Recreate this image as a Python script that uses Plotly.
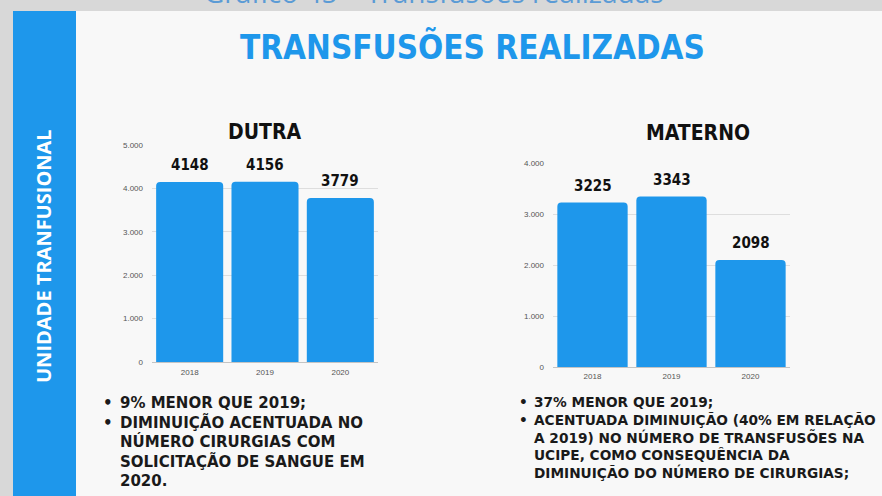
import plotly.graph_objects as go

W, H = 882, 496

years = ["2018", "2019", "2020"]
dutra_values = [4148, 4156, 3779]
materno_values = [3225, 3343, 2098]

page_caption = "Gráfico 45 – Transfusões realizadas"
main_title = "TRANSFUSÕES REALIZADAS"
side_label = "UNIDADE TRANFUSIONAL"
dutra_title = "DUTRA"
materno_title = "MATERNO"
dutra_notes = [
    "9% MENOR QUE 2019;",
    "DIMINUIÇÃO ACENTUADA NO",
    "NÚMERO CIRURGIAS COM",
    "SOLICITAÇÃO DE SANGUE EM",
    "2020.",
]
dutra_bullet_lines = [0, 1]
materno_notes = [
    "37% MENOR QUE 2019;",
    "ACENTUADA DIMINUIÇÃO (40% EM RELAÇÃO",
    "A 2019) NO NÚMERO DE TRANSFUSÕES NA",
    "UCIPE, COMO CONSEQUÊNCIA DA",
    "DIMINUIÇÃO DO NÚMERO DE CIRURGIAS;",
]
materno_bullet_lines = [0, 1]

BLUE = "#1e97eb"
COND = "DejaVu Sans Condensed, Liberation Sans Narrow, sans-serif"
BODY = "Open Sans, Lato, sans-serif"
NOTE = "DejaVu Sans, sans-serif"


def px(x):
    return x / W


def py(y):
    return 1 - y / H


fig = go.Figure()

fig.add_trace(go.Bar(
    x=years, y=dutra_values,
    marker=dict(color=BLUE, line=dict(width=0)),
    xaxis="x", yaxis="y", showlegend=False, hoverinfo="skip",
))
fig.add_trace(go.Bar(
    x=years, y=materno_values,
    marker=dict(color=BLUE, line=dict(width=0)),
    xaxis="x2", yaxis="y2", showlegend=False, hoverinfo="skip",
))

tick_font = dict(family="Liberation Sans, Arial, sans-serif", size=8, color="#555")
axis_common_y = dict(
    tickformat=",d", showgrid=True, gridcolor="#dedede", gridwidth=1,
    zeroline=False, showline=False, ticks="", tickfont=tick_font,
    ticklabelstandoff=8, fixedrange=True, automargin=False,
)
axis_common_x = dict(
    type="category", showgrid=False, showline=True, linecolor="#c4c4c4",
    linewidth=1, ticks="", zeroline=False, tickfont=tick_font,
    fixedrange=True, automargin=False,
)

fig.update_layout(
    width=W, height=H,
    margin=dict(l=0, r=0, t=0, b=0, pad=0, autoexpand=False),
    paper_bgcolor="#d8d8d8",
    plot_bgcolor="rgba(0,0,0,0)",
    separators=",.",
    bargap=0.11,
    barcornerradius=4,
    xaxis=dict(domain=[px(152), px(378)], anchor="y", ticklabelstandoff=2, **axis_common_x),
    yaxis=dict(domain=[py(362), py(145)], range=[0, 5000], dtick=1000, anchor="x", **axis_common_y),
    xaxis2=dict(domain=[px(553), px(790)], anchor="y2", ticklabelstandoff=1, **axis_common_x),
    yaxis2=dict(domain=[py(367), py(163)], range=[0, 4000], dtick=1000, anchor="x2", **axis_common_y),
)

shapes = [
    dict(type="rect", xref="paper", yref="paper", x0=px(76), x1=1, y0=0, y1=py(11),
         fillcolor="#f8f8f8", line=dict(width=0), layer="below"),
    dict(type="rect", xref="paper", yref="paper", x0=px(13), x1=px(76), y0=0, y1=py(11),
         fillcolor=BLUE, line=dict(width=0), layer="below"),
]
fig.update_layout(shapes=shapes)

ann = []
# value labels placed from the data through the axes (category index on x)
for xa, ya, vals in (("x", "y", dutra_values), ("x2", "y2", materno_values)):
    for i, v in enumerate(vals):
        ann.append(dict(text=str(v), x=i, y=v, xref=xa, yref=ya,
                        xanchor="center", yanchor="middle", yshift=17, showarrow=False,
                        font=dict(family=COND, size=15, color="#111", weight="bold")))

ann.append(dict(text=page_caption, x=px(434), y=py(13), xref="paper", yref="paper",
                xanchor="center", yanchor="bottom", showarrow=False,
                font=dict(family=BODY, size=28, color="#5b9bd5")))
ann.append(dict(text=main_title, x=px(472), y=py(47), xref="paper", yref="paper",
                xanchor="center", yanchor="middle", showarrow=False,
                font=dict(family=COND, size=33, color=BLUE, weight="bold")))
ann.append(dict(text=side_label, x=px(43), y=py(256), xref="paper", yref="paper",
                xanchor="center", yanchor="middle", showarrow=False, textangle=-90,
                font=dict(family=BODY, size=20, color="white", weight="bold")))
ann.append(dict(text=dutra_title, x=px(264), y=py(132), xref="paper", yref="paper",
                xanchor="center", yanchor="middle", showarrow=False,
                font=dict(family=COND, size=21, color="#111", weight="bold")))
ann.append(dict(text=materno_title, x=px(698), y=py(133), xref="paper", yref="paper",
                xanchor="center", yanchor="middle", showarrow=False,
                font=dict(family=COND, size=21, color="#111", weight="bold")))

# note blocks
left_size, right_size = 15, 13.7
left_top, right_top = 403, 402
ann.append(dict(text="<br>".join(dutra_notes), x=px(118), y=py(left_top + 2 * 1.3 * left_size),
                xref="paper", yref="paper", xanchor="left", yanchor="middle", align="left",
                showarrow=False,
                font=dict(family=NOTE, size=left_size, color="#1a1a1a", weight="bold")))
for i in dutra_bullet_lines:
    ann.append(dict(text="•", x=px(108), y=py(left_top + i * 1.3 * left_size),
                    xref="paper", yref="paper", xanchor="center", yanchor="middle",
                    showarrow=False,
                    font=dict(family=NOTE, size=left_size, color="#1a1a1a", weight="bold")))
ann.append(dict(text="<br>".join(materno_notes), x=px(532), y=py(right_top + 2 * 1.3 * right_size),
                xref="paper", yref="paper", xanchor="left", yanchor="middle", align="left",
                showarrow=False,
                font=dict(family=NOTE, size=right_size, color="#1a1a1a", weight="bold")))
for i in materno_bullet_lines:
    ann.append(dict(text="•", x=px(523), y=py(right_top + i * 1.3 * right_size),
                    xref="paper", yref="paper", xanchor="center", yanchor="middle",
                    showarrow=False,
                    font=dict(family=NOTE, size=right_size, color="#1a1a1a", weight="bold")))

fig.update_layout(annotations=ann)

fig.write_html("out.html", config={"displayModeBar": False},
               post_script="document.body.style.margin='0';document.body.style.overflow='hidden';")
